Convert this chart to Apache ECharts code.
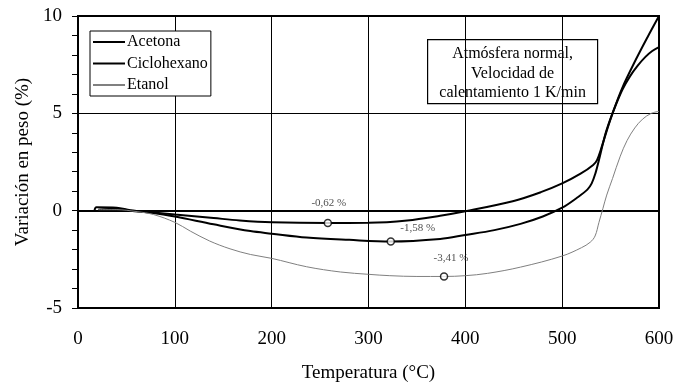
<!DOCTYPE html>
<html>
<head>
<meta charset="utf-8">
<script src="https://cdn.jsdelivr.net/npm/echarts@6/dist/echarts.min.js"></script>
<style>
  html, body { margin: 0; padding: 0; background: #fff; }
  #chart { width: 688px; height: 383px; }
</style>
</head>
<body>
<div id="chart"></div>
<script>
// Temperatura (°C), variación en peso (%)
const acetona = [
  [17, 0.0], [19, 0.17], [40, 0.15], [54, 0.02], [78, -0.09], [100, -0.2], [140, -0.38],
  [167, -0.5], [200, -0.59], [258, -0.63], [300, -0.62], [340, -0.5], [374, -0.26],
  [400, -0.03], [450, 0.5], [478, 0.95], [500, 1.4], [519, 1.9], [532, 2.35], [536, 2.6],
  [541, 3.3], [546, 4.1], [552, 5.0], [562, 6.3], [576, 7.75], [588, 8.9], [600, 10.0]
];
const ciclohexano = [
  [21, 0.05], [40, 0.1], [54, 0.0], [78, -0.12], [100, -0.3], [140, -0.7], [178, -1.05],
  [200, -1.18], [236, -1.38], [280, -1.5], [323, -1.58], [374, -1.45], [400, -1.25],
  [430, -1.0], [457, -0.68], [480, -0.3], [500, 0.15], [515, 0.65], [526, 1.08], [530.5, 1.4],
  [534.5, 1.94], [538, 2.6], [545, 4.0], [552, 5.0], [562, 6.2], [570, 6.9], [578, 7.45],
  [586, 7.9], [593, 8.2], [600, 8.4]
];
const etanol = [
  [21, 0.05], [40, 0.05], [61, -0.05], [78, -0.2], [100, -0.6], [116, -1.05],
  [136, -1.56], [157, -1.96], [178, -2.25], [200, -2.45], [236, -2.88], [271, -3.15],
  [300, -3.27], [322, -3.34], [350, -3.38], [378, -3.38], [400, -3.34], [423, -3.22],
  [457, -2.9], [500, -2.33], [520, -1.9], [529, -1.62], [534, -1.3], [538, -0.6],
  [542, 0.1], [546, 0.8], [552, 1.65], [560, 2.8], [567, 3.6], [575, 4.25], [583, 4.7],
  [592, 5.0], [600, 5.1]
];
const minimos = [[258, -0.63], [323, -1.58], [378, -3.38]];
const minimosTexto = ['-0,62 %', '-1,58 %', '-3,41 %'];
const offsetsTexto = [[1, -10], [27, -4], [7, -9]];
const nota = ['Atmósfera normal,', 'Velocidad de', 'calentamiento 1 K/min'];

const serif = '"Liberation Serif", "DejaVu Serif", serif';
const chart = echarts.init(document.getElementById('chart'));

const lineSeries = (name, data, width, color) => ({
  name,
  type: 'line',
  data,
  symbol: 'none',
  smooth: 0.35,
  lineStyle: { width, color },
  itemStyle: { color },
  z: 3,
});

chart.setOption({
  backgroundColor: '#fff',
  animation: false,
  grid: {
    left: 78, right: 29, top: 16, bottom: 75,
    containLabel: false, outerBoundsMode: 'none',
    show: true, borderColor: '#000', borderWidth: 2, backgroundColor: '#fff',
  },
  legend: {
    data: [
      { name: 'Acetona', icon: 'path://M0,0H32V2H0Z', itemStyle: { color: '#000' } },
      { name: 'Ciclohexano', icon: 'path://M0,0H32V2H0Z', itemStyle: { color: '#000' } },
      { name: 'Etanol', icon: 'path://M0,0H32V1H0Z', itemStyle: { color: '#000' } },
    ],
    orient: 'vertical',
    left: 90, top: 31,
    itemWidth: 32, itemHeight: 16, itemGap: 5.5,
    padding: [3, 3, 3, 3],
    borderColor: '#000', borderWidth: 1,
    backgroundColor: '#fff',
    textStyle: { fontFamily: serif, fontSize: 16, color: '#000', padding: [0, 0, 0, -3] },
  },
  xAxis: {
    type: 'value', min: 0, max: 600, interval: 100,
    name: 'Temperatura (°C)', nameLocation: 'middle', nameGap: 56,
    nameTextStyle: { fontFamily: serif, fontSize: 19, color: '#000' },
    axisLine: { lineStyle: { color: '#000', width: 2 } },
    axisTick: { show: true, length: 6, lineStyle: { color: '#000', width: 1 } },
    axisLabel: { fontFamily: serif, fontSize: 19, color: '#000', margin: 22 },
    splitLine: { show: true, lineStyle: { color: '#000', width: 1 } },
  },
  yAxis: {
    type: 'value', min: -5, max: 10, interval: 5,
    name: 'Variación en peso (%)', nameLocation: 'middle', nameGap: 44,
    nameTextStyle: { fontFamily: serif, fontSize: 19, color: '#000' },
    axisLine: { show: true, lineStyle: { color: '#000', width: 2 } },
    axisTick: { show: true, length: 6, lineStyle: { color: '#000', width: 1 } },
    minorTick: { show: true, splitNumber: 5, length: 6, lineStyle: { color: '#000', width: 1 } },
    axisLabel: { fontFamily: serif, fontSize: 19, color: '#000', margin: 16 },
    splitLine: { show: true, lineStyle: { color: '#000', width: 1 } },
  },
  graphic: [{
    type: 'group',
    left: 427, top: 39,
    children: [
      { type: 'rect', shape: { x: 0, y: 0, width: 170, height: 64 },
        style: { fill: '#fff', stroke: '#000', lineWidth: 1.2 } },
      { type: 'text', x: 85, y: 34,
        style: { text: nota.join('\n'), fontFamily: serif, fontSize: 16, lineHeight: 19.5,
                 fill: '#000', align: 'center', verticalAlign: 'middle' } },
    ],
    z: 10,
  }],
  series: [
    lineSeries('Acetona', acetona, 2, '#000'),
    lineSeries('Ciclohexano', ciclohexano, 2, '#000'),
    lineSeries('Etanol', etanol, 1, '#808080'),
    {
      name: 'mínimos',
      type: 'scatter',
      data: minimos.map((p, i) => ({
        value: p,
        label: { formatter: minimosTexto[i], offset: offsetsTexto[i] },
      })),
      symbol: 'circle',
      symbolSize: 7,
      itemStyle: { color: '#fff', borderColor: '#000', borderWidth: 1.5 },
      label: {
        show: true, position: 'top', distance: 0,
        fontFamily: serif, fontSize: 11, color: '#222',
      },
      z: 5,
    },
  ],
});
</script>
</body>
</html>
